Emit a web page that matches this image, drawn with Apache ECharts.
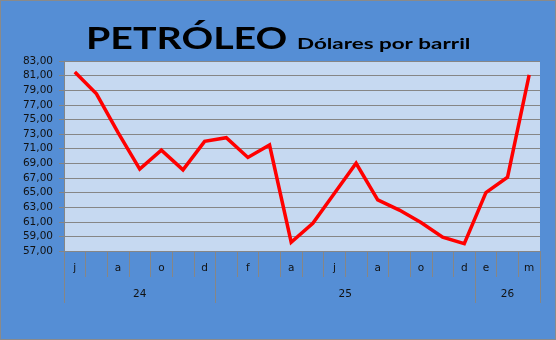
<!DOCTYPE html>
<html>
<head>
<meta charset="utf-8">
<script src="https://cdn.jsdelivr.net/npm/echarts@6/dist/echarts.min.js"></script>
<style>
html,body{margin:0;padding:0;background:#558ED5;}
#c{width:556px;height:340px;}
</style>
</head>
<body>
<div id="c"></div>
<script>
// Categories (months Jun 2024 .. Mar 2026)
var categories = ['2024-06','2024-07','2024-08','2024-09','2024-10','2024-11','2024-12',
  '2025-01','2025-02','2025-03','2025-04','2025-05','2025-06','2025-07','2025-08','2025-09','2025-10','2025-11','2025-12',
  '2026-01','2026-02','2026-03'];
var monthTickLabels = ['j','','a','','o','','d','','f','','a','','j','','a','','o','','d','e','','m'];
var prices = [81.5, 78.5, 73.2, 68.2, 70.8, 68.1, 72.0, 72.5, 69.8, 71.5, 58.2, 60.8, 64.9, 69.0, 64.0, 62.6, 60.9, 58.9, 58.0, 65.0, 67.1, 81.1];
var yearLabels = ['24','25','26'];
var yearBounds = [0, 7, 19, 22];
var yTicks = [57,59,61,63,65,67,69,71,73,75,77,79,81,83];
var titleMain = 'PETRÓLEO';
var titleSub = 'Dólares por barril';

var yearCenters = [];
for (var i = 0; i < yearLabels.length; i++) yearCenters.push((yearBounds[i] + yearBounds[i+1]) / 2);
var monthBounds = [];
for (var j = 0; j <= categories.length; j++) monthBounds.push(j);

var labelFont = 'DejaVu Sans';
var tickColor = '#868686';
var chart = echarts.init(document.getElementById('c'), null, {renderer:'canvas', devicePixelRatio:1});
chart.setOption({
  backgroundColor: '#558ED5',
  animation: false,
  grid: {left: 64, right: 16, top: 61, bottom: 89, show: true, backgroundColor: '#C6D9F1', borderWidth: 0},
  xAxis: [{
    type: 'category',
    data: categories,
    boundaryGap: true,
    position: 'bottom',
    axisLine: {show: true, lineStyle: {color: tickColor, width: 1}},
    axisTick: {show: false},
    axisLabel: {interval: 0, margin: 12, color: '#111', fontFamily: labelFont, fontSize: 10.5,
      formatter: function (v, idx) { return monthTickLabels[idx]; }},
    splitLine: {show: false}
  }, {
    type: 'value',
    min: 0, max: categories.length,
    position: 'bottom',
    axisLine: {show: false},
    axisTick: {show: true, length: 52, customValues: yearBounds, lineStyle: {color: tickColor}},
    axisLabel: {show: true, margin: 38, color: '#111', fontFamily: labelFont, fontSize: 10.5,
      customValues: yearCenters,
      formatter: function (v) { var k = yearCenters.indexOf(v); return k >= 0 ? yearLabels[k] : ''; }},
    splitLine: {show: false}
  }, {
    type: 'value',
    min: 0, max: categories.length,
    position: 'bottom',
    axisLine: {show: false},
    axisTick: {show: true, length: 26, customValues: monthBounds, lineStyle: {color: tickColor}},
    axisLabel: {show: false},
    splitLine: {show: false}
  }],
  yAxis: {
    type: 'value',
    min: yTicks[0], max: yTicks[yTicks.length-1], interval: 2,
    axisLine: {show: true, lineStyle: {color: tickColor}},
    axisTick: {show: true, length: 5, lineStyle: {color: tickColor}},
    axisLabel: {color: '#111', fontFamily: labelFont, fontSize: 10.5, margin: 11,
      formatter: function (v) { return v.toFixed(2).replace('.', ','); }},
    splitLine: {show: true, lineStyle: {color: tickColor, width: 1}}
  },
  series: [{
    type: 'line',
    xAxisIndex: 0,
    data: prices,
    showSymbol: false,
    symbol: 'none',
    lineStyle: {color: '#FF0000', width: 3.5, join: 'miter'},
    z: 5
  }],
  graphic: [
    {type: 'text', x: 86, y: 39, scaleX: 1.31, style: {text: titleMain, x: 0, y: 0, font: 'bold 30px Lato', fill: '#000', align: 'left', verticalAlign: 'middle'}},
    {type: 'text', x: 297, y: 44, scaleX: 1.4, style: {text: titleSub, x: 0, y: 0, font: 'bold 16px Lato', fill: '#000', align: 'left', verticalAlign: 'middle'}},
    {type: 'rect', shape: {x: 0.5, y: 0.5, width: 555, height: 339}, style: {fill: 'none', stroke: '#8A8A8A', lineWidth: 1}, silent: true}
  ]
});
</script>
</body>
</html>
